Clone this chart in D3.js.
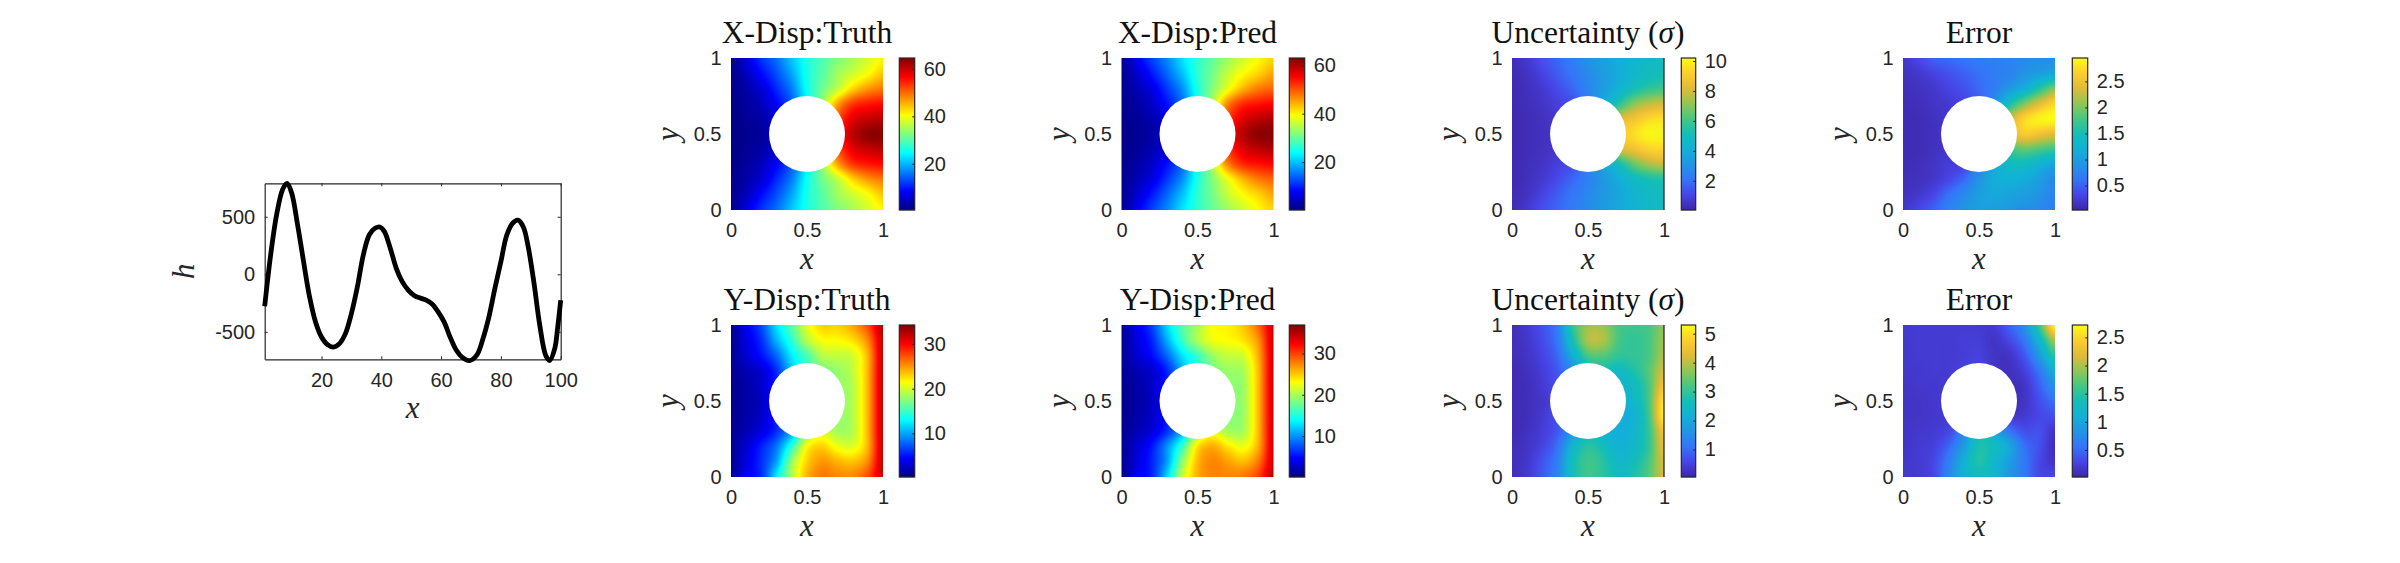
<!DOCTYPE html>
<html>
<head>
<meta charset="utf-8">
<script src="https://cdn.jsdelivr.net/npm/d3@7"></script>
<style>
  html, body { margin: 0; padding: 0; background: #fff; }
  text { fill: #262626; }
  .tick text, .lab-tick { font-family: "Liberation Sans", Arial, sans-serif; font-size: 20px; }
  .title { font-family: "Liberation Serif", serif; font-size: 31.5px; fill: #111; }
  .axlab { font-family: "Liberation Serif", serif; font-style: italic; font-size: 31px; }
</style>
</head>
<body>
<div id="chart"></div>
<script>
// load curve
var hX = [1, 3, 5, 7, 8.5, 10, 12, 14, 16, 18, 20, 22, 24, 26, 28, 30, 32, 34, 36, 38, 39.5, 41, 43, 45, 47, 49, 51, 53, 55, 57, 59, 61, 63, 65, 67, 69.5, 72, 74, 76, 78, 80, 82, 84, 85.7, 87.5, 89, 91, 93, 95, 96.3, 98, 99, 100];
var hY = [-277, 170, 520, 738, 790, 708, 430, 110, -195, -414, -545, -612, -633, -603, -516, -341, -108, 170, 344, 402, 411, 373, 227, 52, -64, -137, -184, -207, -225, -259, -327, -414, -545, -656, -720, -750, -700, -560, -370, -122, 110, 344, 446, 470, 411, 257, -64, -443, -706, -750, -647, -458, -225];
var hXTicks = [20, 40, 60, 80, 100];
var hYTicks = [-500, 0, 500];

var gridNodes = [0, 0.1, 0.2, 0.3, 0.4, 0.5, 0.6, 0.7, 0.8, 0.9, 1];
var unitTicks = [0, 0.5, 1];

// field values on the grid nodes, first row is y=1, last row is y=0
var xTruth = [
  [1.5, 6.5, 11.5, 15.5, 21, 26, 29.5, 32.5, 35, 38, 41],
  [1.5, 4.5, 9, 13.5, 19, 26, 30, 34.5, 37.5, 40.3, 44],
  [1.5, 3, 6, 11, 16.5, 25.3, 31.5, 36.5, 43, 47, 49],
  [1.2, 2.3, 4.5, 8.5, 14, 24, 34, 46, 53, 55, 56],
  [1, 1.8, 3, 6, 11, 24, 38, 51, 58, 60, 61],
  [1, 1.5, 2.5, 5, 10, 24, 40, 54, 60.5, 63.5, 64],
  [1, 1.8, 3, 6, 11, 24, 38, 51, 58, 60, 61],
  [1.2, 2.3, 4.5, 8.5, 14, 24, 34, 46, 53, 55, 56],
  [1.5, 3, 6, 11, 16.5, 25.3, 31.5, 36.5, 43, 47, 49],
  [1.5, 4.5, 9, 13.5, 19, 26, 30, 34.5, 37.5, 40.3, 44],
  [1.5, 6.5, 11.5, 15.5, 21, 26, 29.5, 32.5, 35, 38, 41]
];
var xPred = [
  [1.5, 7, 12, 16.5, 22, 26.5, 30, 33.5, 36.5, 39.5, 42],
  [1.5, 5, 9.5, 14.5, 20, 26.5, 31, 36, 39.5, 42, 45],
  [1.5, 3.5, 6.5, 11.5, 17, 25.5, 32, 38.5, 44, 47.5, 49],
  [1.2, 2.5, 4.8, 9, 14.5, 24.5, 35, 47, 52.5, 54, 55],
  [1, 1.8, 3.2, 6.5, 11.5, 24.5, 39, 51, 57, 59, 60],
  [1, 1.5, 2.6, 5.5, 10.5, 24.5, 41, 54, 59.5, 62, 62.5],
  [1, 1.8, 3.2, 6.5, 11.5, 24.5, 39, 51, 57, 59, 60],
  [1.2, 2.5, 4.8, 9, 14.5, 24.5, 35, 47, 52.5, 54, 55],
  [1.5, 3.5, 6.5, 11.5, 17, 25.5, 32, 38.5, 44, 47.5, 49],
  [1.5, 5, 9.5, 14.5, 20, 26.5, 31, 36, 39.5, 42, 45],
  [1.5, 7, 12, 16.5, 22, 26.5, 30, 33.5, 36.5, 39.5, 42]
];
var xSigma = [
  [0.3, 0.7, 1.3, 1.8, 2.4, 3, 3.5, 4, 4.4, 4.7, 4.9],
  [0.25, 0.5, 1, 1.6, 2.2, 2.8, 3.4, 3.9, 4.5, 4.9, 5.1],
  [0.2, 0.4, 0.7, 1.2, 1.8, 2.6, 3.4, 4.2, 5.1, 5.7, 6],
  [0.2, 0.35, 0.55, 0.9, 1.3, 2.5, 4, 5.5, 7, 7.7, 8],
  [0.2, 0.3, 0.45, 0.7, 1.2, 3, 6, 8, 8.7, 9.4, 9.6],
  [0.2, 0.3, 0.4, 0.6, 1, 3, 7, 8.8, 9.5, 10.1, 10],
  [0.2, 0.3, 0.45, 0.7, 1.2, 3, 6, 7.9, 8.6, 9.2, 9.4],
  [0.2, 0.35, 0.55, 0.9, 1.3, 2.5, 3.8, 5, 6.5, 7.4, 7.8],
  [0.2, 0.4, 0.7, 1.2, 1.8, 2.5, 3.2, 4, 4.7, 5.2, 5.4],
  [0.25, 0.5, 1, 1.6, 2.2, 2.7, 3.2, 3.7, 4.3, 4.7, 4.9],
  [0.3, 0.7, 1.3, 1.8, 2.3, 2.8, 3.3, 3.8, 4.2, 4.6, 4.8]
];
var xError = [
  [0.2, 0.33, 0.5, 0.55, 0.62, 0.68, 0.7, 0.75, 0.8, 0.85, 0.85],
  [0.15, 0.2, 0.3, 0.4, 0.5, 0.6, 0.7, 0.75, 0.9, 1, 1.1],
  [0.12, 0.15, 0.2, 0.3, 0.4, 0.55, 0.7, 0.95, 1.2, 1.6, 2],
  [0.1, 0.12, 0.17, 0.22, 0.3, 0.5, 0.9, 1.5, 2, 2.4, 2.7],
  [0.1, 0.1, 0.14, 0.2, 0.3, 0.6, 1.5, 2.2, 2.7, 2.9, 2.95],
  [0.1, 0.1, 0.13, 0.2, 0.3, 0.6, 1.6, 2.3, 2.6, 2.5, 2.4],
  [0.1, 0.1, 0.14, 0.2, 0.3, 0.6, 1.2, 1.7, 1.9, 1.8, 1.7],
  [0.1, 0.12, 0.17, 0.25, 0.3, 0.7, 1.1, 1.4, 1.4, 1.25, 1.05],
  [0.12, 0.14, 0.2, 0.33, 0.55, 0.9, 1.15, 1.2, 1.15, 1, 0.8],
  [0.15, 0.2, 0.33, 0.6, 0.8, 1, 1.1, 1.05, 1, 0.9, 0.75],
  [0.2, 0.32, 0.5, 0.75, 0.9, 1.02, 1, 0.95, 0.85, 0.8, 0.7]
];
var yTruth = [
  [1, 4, 7, 12, 16, 20.5, 23, 23, 24.5, 27.5, 32.5],
  [1, 3.5, 6, 10.5, 14.5, 19, 21.3, 21.5, 22.5, 25.5, 32],
  [1, 3, 5, 8, 12.5, 15.5, 19, 19.5, 20, 24, 32],
  [1, 2, 3, 6, 11, 15, 17, 18, 19.5, 24, 32],
  [0.8, 1.5, 2.8, 5.5, 9, 13, 16, 18, 19, 24, 32],
  [0.8, 1.5, 2.5, 5.5, 9, 13, 16, 18, 19, 24, 32],
  [0.8, 1.5, 2.8, 5.5, 9, 14, 17, 18, 19, 24, 32],
  [1, 2, 3.5, 6, 10, 17, 20, 18.5, 19, 24, 32],
  [1, 3, 5.5, 8.5, 14.5, 21.5, 23, 21, 20.5, 24, 32],
  [1, 3.5, 6, 10, 18, 23, 25, 24, 23.5, 25.5, 32],
  [1, 4, 6, 12.5, 19, 24, 26, 25.5, 25.5, 27.5, 32]
];
var yPred = [
  [1, 4, 7, 12.5, 17, 20, 23, 23.5, 25, 28.5, 34],
  [1, 3.5, 6, 11, 16, 20, 22.5, 23, 24, 27, 34],
  [1, 3, 5, 8.5, 13, 16, 19.5, 21, 21.5, 26, 34],
  [1, 2, 3, 6, 11, 15, 18, 19.5, 20, 25.5, 34],
  [0.8, 1.5, 2.8, 5.5, 9.5, 14, 17, 19, 19.5, 25.5, 34],
  [0.8, 1.5, 2.5, 5.5, 9.5, 14, 17, 19, 19.5, 25.5, 34],
  [0.8, 1.5, 2.8, 5.5, 9.5, 15, 18, 19, 19.5, 25.5, 34],
  [1, 2, 3.5, 6.5, 11, 19, 22, 20, 20, 25.5, 34],
  [1, 3, 5.5, 10, 16, 24, 26, 24, 22.5, 26, 34],
  [1, 3.5, 6, 10.5, 19, 25.5, 27.5, 26.5, 25.5, 28, 34],
  [1, 4, 6, 12.5, 21, 26, 27.5, 27.5, 28, 30, 35]
];
var ySigma = [
  [0.2, 0.4, 0.7, 1.3, 3, 3.8, 3.8, 3.2, 3.1, 3.2, 3.7],
  [0.2, 0.35, 0.65, 1.2, 2.7, 3.9, 3.9, 3.2, 3, 3.2, 3.8],
  [0.2, 0.3, 0.55, 1, 2.1, 3.2, 3.3, 3, 3, 3.2, 3.9],
  [0.15, 0.25, 0.45, 0.8, 1.5, 2.5, 2.7, 2.5, 2.8, 3.3, 4.2],
  [0.15, 0.2, 0.4, 0.7, 1.2, 2, 2.3, 2.3, 2.5, 3.2, 4.6],
  [0.15, 0.2, 0.35, 0.6, 1.1, 2, 2.2, 2.2, 2.4, 3.2, 5.1],
  [0.15, 0.2, 0.4, 0.7, 1.2, 2, 2.1, 2.1, 2.2, 3.1, 5.2],
  [0.15, 0.25, 0.45, 0.8, 1.6, 2.4, 2.2, 2.1, 2.3, 3, 4.6],
  [0.2, 0.3, 0.55, 1.1, 2.3, 2.9, 2.6, 2.2, 2.4, 3, 4.4],
  [0.2, 0.35, 0.75, 1.3, 2.6, 3.1, 2.9, 2.4, 2.6, 3.2, 4.2],
  [0.2, 0.4, 0.8, 1.4, 2.6, 3.1, 2.9, 2.6, 2.8, 3.3, 4.2]
];
var yError = [
  [0.2, 0.2, 0.2, 0.2, 0.2, 0.2, 0.2, 0.45, 0.8, 1.6, 2.7],
  [0.18, 0.2, 0.2, 0.2, 0.22, 0.22, 0.15, 0.3, 0.6, 1.2, 2],
  [0.18, 0.2, 0.2, 0.2, 0.22, 0.25, 0.15, 0.15, 0.4, 0.9, 1.5],
  [0.18, 0.18, 0.2, 0.2, 0.25, 0.25, 0.15, 0.12, 0.25, 0.6, 1.1],
  [0.15, 0.18, 0.18, 0.2, 0.2, 0.2, 0.2, 0.12, 0.15, 0.45, 0.8],
  [0.15, 0.15, 0.18, 0.2, 0.2, 0.2, 0.2, 0.12, 0.15, 0.35, 0.55],
  [0.15, 0.15, 0.18, 0.2, 0.3, 0.5, 0.4, 0.2, 0.2, 0.3, 0.35],
  [0.15, 0.18, 0.2, 0.3, 0.7, 1.3, 1, 0.6, 0.35, 0.35, 0.15],
  [0.15, 0.2, 0.25, 0.48, 0.9, 1.4, 1.3, 1, 0.55, 0.35, 0.1],
  [0.18, 0.2, 0.3, 0.65, 1.1, 1.45, 1.2, 0.9, 0.6, 0.3, 0.15],
  [0.18, 0.2, 0.3, 0.7, 1.1, 1.3, 1.2, 0.85, 0.6, 0.3, 0.3]
];

// colour ranges and colourbar ticks
var xTruthRange = [0.5, 64.6], xTruthTicks = [20, 40, 60];
var xPredRange = [0.2, 63], xPredTicks = [20, 40, 60];
var xSigmaRange = [0.05, 10.2], xSigmaTicks = [2, 4, 6, 8, 10];
var xErrorRange = [0.03, 2.95], xErrorTicks = [0.5, 1, 1.5, 2, 2.5];
var yTruthRange = [0.2, 34.3], yTruthTicks = [10, 20, 30];
var yPredRange = [0.1, 36.9], yPredTicks = [10, 20, 30];
var ySigmaRange = [0.05, 5.3], ySigmaTicks = [1, 2, 3, 4, 5];
var yErrorRange = [0.02, 2.72], yErrorTicks = [0.5, 1, 1.5, 2, 2.5];

var jetStops = ["#000080", "#0000ff", "#00ffff", "#ffff00", "#ff0000", "#800000"];
var jetPos = [0, 0.125, 0.375, 0.625, 0.875, 1];
var parulaStops = ["#3e26a8", "#4745e7", "#3574fa", "#2195e4", "#12b1d7", "#13beb7", "#46c783", "#91c653", "#e1bb37", "#fcce2e", "#f9fb15"];
var parulaPos = [0, 0.1, 0.2, 0.3, 0.4, 0.5, 0.6, 0.7, 0.8, 0.9, 1];

var width = 2400, height = 563;
var size = 152;
var inkColor = "#262626";

var svg = d3.select("#chart").append("svg")
    .attr("width", width)
    .attr("height", height)
    .style("display", "block");

function cubic(a, b, c, d, t) {
    return b + 0.5 * t * (c - a + t * (2 * a - 5 * b + 4 * c - d + t * (3 * (b - c) + d - a)));
}

// shading between the grid nodes, same as shading interp
function shade(rows, gx, gy) {
    var n = rows.length - 1;
    var i = Math.min(Math.floor(gx), n - 1), j = Math.min(Math.floor(gy), n - 1);
    var cols = [];
    for (var q = -1; q <= 2; q++) {
        var r = rows[Math.max(0, Math.min(n, j + q))];
        cols.push(cubic(r[Math.max(0, i - 1)], r[i], r[i + 1], r[Math.min(n, i + 2)], gx - i));
    }
    return cubic(cols[0], cols[1], cols[2], cols[3], gy - j);
}

function drawField(p) {
    var g = svg.append("g").attr("transform", "translate(" + p.left + "," + p.top + ")");
    var x = d3.scaleLinear().domain([0, 1]).range([0, size]);
    var y = d3.scaleLinear().domain([0, 1]).range([size, 0]);
    var stops = p.jet ? jetStops : parulaStops;
    var pos = p.jet ? jetPos : parulaPos;
    var color = d3.scaleLinear()
        .domain(pos.map(function (t) { return p.range[0] + t * (p.range[1] - p.range[0]); }))
        .range(stops)
        .clamp(true);

    var canvas = document.createElement("canvas");
    canvas.width = size * 2;
    canvas.height = size * 2;
    var ctx = canvas.getContext("2d");
    var toGrid = d3.scaleLinear().domain([0, canvas.width - 1]).range([0, gridNodes.length - 1]);
    for (var py = 0; py < canvas.height; py++) {
        for (var px = 0; px < canvas.width; px++) {
            ctx.fillStyle = color(shade(p.values, toGrid(px), toGrid(py)));
            ctx.fillRect(px, py, 1, 1);
        }
    }
    g.append("image")
        .attr("x", x(0)).attr("y", y(1))
        .attr("width", size).attr("height", size)
        .attr("preserveAspectRatio", "none")
        .attr("href", canvas.toDataURL());

    // the hole
    g.append("circle")
        .attr("cx", x(0.5)).attr("cy", y(0.5))
        .attr("r", x(0.75) - x(0.5))
        .attr("fill", "#fff");

    if (p.rightLine) {
        g.append("line").attr("x1", size).attr("x2", size).attr("y1", 0).attr("y2", size)
            .attr("stroke", inkColor).attr("stroke-width", 1.3);
    }

    var xAxis = g.append("g").attr("transform", "translate(0," + size + ")")
        .call(d3.axisBottom(x).tickValues(unitTicks).tickSize(0).tickPadding(13).tickFormat(String));
    var yAxis = g.append("g")
        .call(d3.axisLeft(y).tickValues(unitTicks).tickSize(0).tickPadding(9.5).tickFormat(String));
    xAxis.select(".domain").remove();
    yAxis.select(".domain").remove();
    xAxis.selectAll("text").attr("fill", inkColor);
    yAxis.selectAll("text").attr("fill", inkColor);

    g.append("text").attr("class", "title")
        .attr("x", size / 2).attr("y", -15)
        .attr("text-anchor", "middle")
        .text(p.title)
        .call(function (t) {
            if (p.sigma) {
                t.append("tspan").text("(");
                t.append("tspan").attr("font-style", "italic").text("\u03c3");
                t.append("tspan").text(")");
            }
        });

    g.append("text").attr("class", "axlab")
        .attr("x", size / 2).attr("y", size + 58.5)
        .attr("text-anchor", "middle").text("x");
    g.append("text").attr("class", "axlab")
        .attr("transform", "translate(-53," + (size / 2) + ") rotate(-90)")
        .attr("text-anchor", "middle").text("y");

    // colourbar
    var c = svg.append("g").attr("transform", "translate(" + p.barLeft + "," + p.top + ")");
    var barW = p.barW || 15.4;
    var barScale = d3.scaleLinear().domain(p.range).range([size, 0]);
    c.selectAll("rect.ramp")
        .data(d3.range(0, size))
        .enter()
        .append("rect")
        .attr("class", "ramp")
        .attr("x", 0)
        .attr("y", function (d) { return d; })
        .attr("width", barW)
        .attr("height", 1.2)
        .attr("fill", function (d) { return color(barScale.invert(d + 0.5)); });
    c.append("rect")
        .attr("width", barW).attr("height", size)
        .attr("fill", "none")
        .attr("stroke", inkColor)
        .attr("stroke-width", 1.2);
    var cAxis = c.append("g").attr("transform", "translate(" + barW + ",0)")
        .call(d3.axisRight(barScale).tickValues(p.ticks).tickSizeInner(-2.5).tickSizeOuter(0).tickPadding(9).tickFormat(String));
    cAxis.select(".domain").remove();
    cAxis.selectAll("line").attr("stroke", inkColor).attr("stroke-width", 1);
    cAxis.selectAll("text").attr("fill", inkColor);
}

function drawLoad() {
    var left = 264.7, right = 560.7, top = 183.3, bottom = 359.3;
    var x = d3.scaleLinear().domain([1, 100]).range([left, right]);
    var y = d3.scaleLinear().domain([-739, 791]).range([bottom, top]);
    var g = svg.append("g");

    var xAxis = g.append("g").attr("transform", "translate(0," + bottom + ")")
        .call(d3.axisBottom(x).tickValues(hXTicks).tickSizeInner(-3).tickSizeOuter(0).tickPadding(14).tickFormat(String));
    var yAxis = g.append("g").attr("transform", "translate(" + left + ",0)")
        .call(d3.axisLeft(y).tickValues(hYTicks).tickSizeInner(-3).tickSizeOuter(0).tickPadding(9.5).tickFormat(String));
    var xTop = g.append("g").attr("transform", "translate(0," + top + ")")
        .call(d3.axisTop(x).tickValues(hXTicks).tickSizeInner(-3).tickSizeOuter(0).tickFormat(""));
    var yRight = g.append("g").attr("transform", "translate(" + right + ",0)")
        .call(d3.axisRight(y).tickValues(hYTicks).tickSizeInner(-3).tickSizeOuter(0).tickFormat(""));
    [xAxis, yAxis, xTop, yRight].forEach(function (a) {
        a.selectAll(".domain").attr("stroke", inkColor).attr("stroke-width", 1.2);
        a.selectAll("line").attr("stroke", inkColor).attr("stroke-width", 1);
        a.selectAll("text").attr("fill", inkColor);
    });

    var line = d3.line()
        .x(function (d, i) { return x(hX[i]); })
        .y(function (d) { return y(d); })
        .curve(d3.curveCatmullRom);
    g.append("path")
        .attr("d", line(hY))
        .attr("fill", "none")
        .attr("stroke", "#000")
        .attr("stroke-width", 4.8);

    g.append("text").attr("class", "axlab")
        .attr("x", (left + right) / 2).attr("y", 418)
        .attr("text-anchor", "middle").text("x");
    g.append("text").attr("class", "axlab")
        .attr("transform", "translate(194," + (top + bottom) / 2 + ") rotate(-90)")
        .attr("text-anchor", "middle").text("h");
}

drawLoad();

var rowTop = [58, 325];
drawField({ left: 731, top: rowTop[0], barLeft: 899.3, title: "X-Disp:Truth", values: xTruth, range: xTruthRange, ticks: xTruthTicks, jet: true });
drawField({ left: 1121.5, top: rowTop[0], barLeft: 1289.3, title: "X-Disp:Pred", values: xPred, range: xPredRange, ticks: xPredTicks, jet: true });
drawField({ left: 1512, top: rowTop[0], barLeft: 1681.3, barW: 14.4, title: "Uncertainty ", sigma: true, values: xSigma, range: xSigmaRange, ticks: xSigmaTicks, rightLine: true });
drawField({ left: 1903, top: rowTop[0], barLeft: 2072.3, title: "Error", values: xError, range: xErrorRange, ticks: xErrorTicks });
drawField({ left: 731, top: rowTop[1], barLeft: 899.3, title: "Y-Disp:Truth", values: yTruth, range: yTruthRange, ticks: yTruthTicks, jet: true });
drawField({ left: 1121.5, top: rowTop[1], barLeft: 1289.3, title: "Y-Disp:Pred", values: yPred, range: yPredRange, ticks: yPredTicks, jet: true });
drawField({ left: 1512, top: rowTop[1], barLeft: 1681.3, barW: 14.4, title: "Uncertainty ", sigma: true, values: ySigma, range: ySigmaRange, ticks: ySigmaTicks, rightLine: true });
drawField({ left: 1903, top: rowTop[1], barLeft: 2072.3, title: "Error", values: yError, range: yErrorRange, ticks: yErrorTicks });
</script>
</body>
</html>
